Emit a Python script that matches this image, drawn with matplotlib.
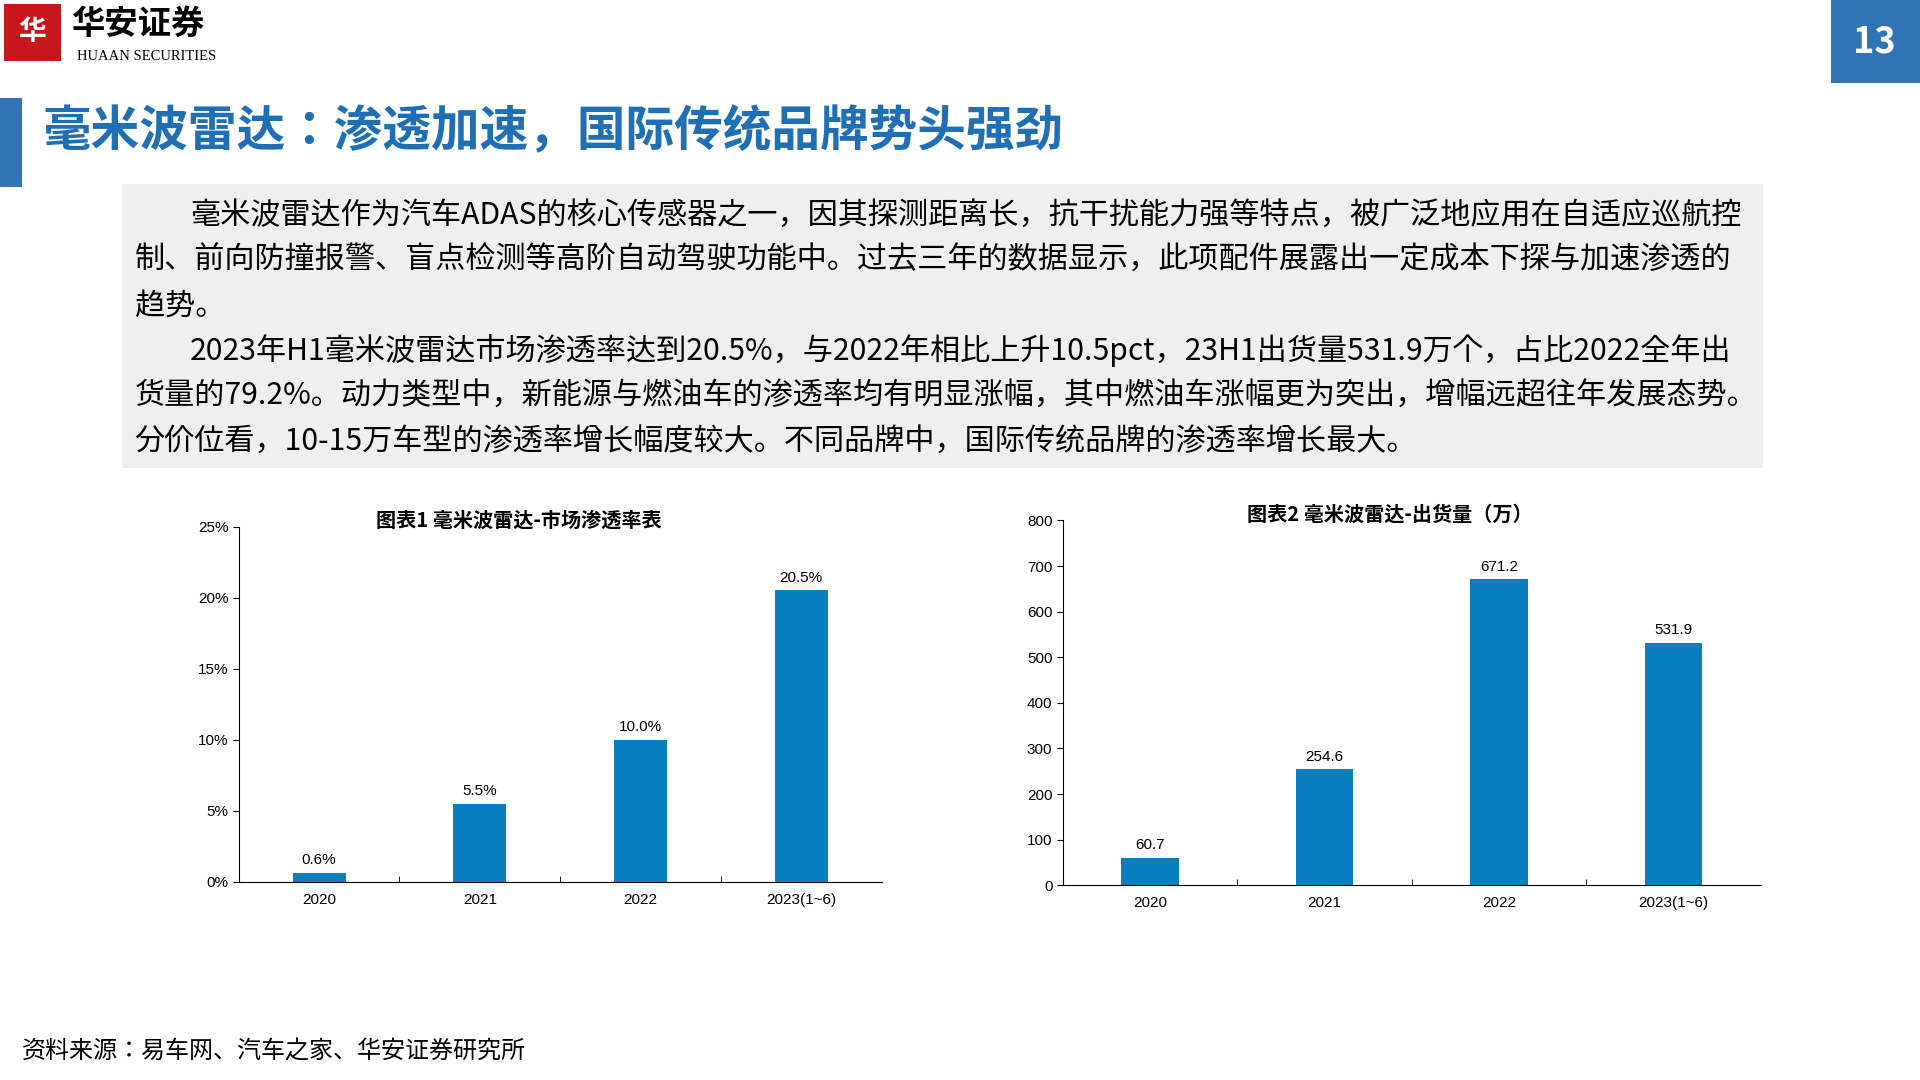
import matplotlib
matplotlib.use("agg")
import matplotlib.pyplot as plt
from matplotlib.patches import Rectangle
from matplotlib.ticker import FuncFormatter

CJK = ['Noto Sans CJK JP', 'Noto Sans CJK SC', 'Noto Sans CJK TC', 'Noto Sans CJK KR', 'DejaVu Sans']
NUM = ['Liberation Sans'] + CJK
plt.rcParams['font.family'] = CJK
plt.rcParams['axes.unicode_minus'] = False

years = ['2020', '2021', '2022', '2023(1~6)']
rate = [0.6, 5.5, 10.0, 20.5]
ship = [60.7, 254.6, 671.2, 531.9]
rate_labels = ['0.6%', '5.5%', '10.0%', '20.5%']
ship_labels = ['60.7', '254.6', '671.2', '531.9']

BLUE = '#0a7fc0'
W, H = 1568, 882

def fx(x): return x / W
def fy(y): return 1 - y / H

fig = plt.figure(figsize=(19.2, 10.8), dpi=100)

# logo
fig.patches.append(Rectangle((fx(3), fy(50)), fx(47), 47 / H, transform=fig.transFigure,
                             facecolor='#c8161d', edgecolor='none'))
fig.text(fx(26), fy(26), '华', color='white', fontsize=20, ha='center', va='center', weight='bold')
fig.text(fx(58), fy(20), '华安证券', fontsize=24, ha='left', va='center', weight='bold')
fig.text(fx(63), fy(46), 'HUAAN SECURITIES', fontsize=10.5, ha='left', va='center', family='Liberation Serif')

# page number
fig.patches.append(Rectangle((fx(1495), fy(68)), fx(73), 68 / H, transform=fig.transFigure,
                             facecolor='#2f74b5', edgecolor='none'))
fig.text(fx(1531), fy(34), '13', color='white', fontsize=26, ha='center', va='center', weight='bold')

# title
fig.patches.append(Rectangle((0, fy(153)), fx(18), 73 / H, transform=fig.transFigure,
                             facecolor='#2f74b5', edgecolor='none'))
fig.text(fx(35), fy(108), '毫米波雷达：渗透加速，国际传统品牌势头强劲', color='#1f6fb5',
         fontsize=35, ha='left', va='center', weight='bold')

# text box
fig.patches.append(Rectangle((fx(100), fy(382)), fx(1340), 232 / H, transform=fig.transFigure,
                             facecolor='#efefef', edgecolor='none'))
lines = [
    (155, '毫米波雷达作为汽车ADAS的核心传感器之一，因其探测距离长，抗干扰能力强等特点，被广泛地应用在自适应巡航控'),
    (110, '制、前向防撞报警、盲点检测等高阶自动驾驶功能中。过去三年的数据显示，此项配件展露出一定成本下探与加速渗透的'),
    (110, '趋势。'),
    (155, '2023年H1毫米波雷达市场渗透率达到20.5%，与2022年相比上升10.5pct，23H1出货量531.9万个，占比2022全年出'),
    (110, '货量的79.2%。动力类型中，新能源与燃油车的渗透率均有明显涨幅，其中燃油车涨幅更为突出，增幅远超往年发展态势。'),
    (110, '分价位看，10-15万车型的渗透率增长幅度较大。不同品牌中，国际传统品牌的渗透率增长最大。'),
]
for i, (x, s) in enumerate(lines):
    fig.text(fx(x), fy(176 + i * 36.8), s, fontsize=21.7, ha='left', va='center')

def bar_chart(rect, values, labels, title, title_x, ylim, yticks, fmt, offset):
    ax = fig.add_axes(rect)
    pos = range(len(years))
    ax.bar(pos, values, width=0.33, color=BLUE)
    for p, v, l in zip(pos, values, labels):
        ax.text(p, v + offset, l, ha='center', va='bottom', fontsize=11, family=NUM)
    ax.set_xlim(-0.5, len(years) - 0.5)
    ax.set_ylim(*ylim)
    ax.set_yticks(yticks)
    ax.yaxis.set_major_formatter(FuncFormatter(fmt))
    ax.set_xticks(list(pos))
    ax.set_xticklabels(years, fontsize=11, family=NUM)
    for t in ax.get_yticklabels():
        t.set_family(NUM)
    ax.set_xticks([i + 0.5 for i in range(len(years) - 1)], minor=True)
    ax.tick_params(axis='x', which='major', length=0, pad=8)
    ax.tick_params(axis='x', which='minor', length=4, direction='in')
    ax.tick_params(axis='y', labelsize=11, length=4, direction='out')
    for s in ['top', 'right']:
        ax.spines[s].set_visible(False)
    ax.set_title(title, fontsize=14.5, weight='bold', pad=0, y=1.0, x=title_x)
    return ax

bar_chart([fx(195), fy(720), fx(525), 290 / H], rate, rate_labels, '图表1 毫米波雷达-市场渗透率表', 0.436,
          (0, 25), [0, 5, 10, 15, 20, 25], lambda v, p: f'{int(v)}%', 0.4)
bar_chart([fx(868), fy(723), fx(570), 298 / H], ship, ship_labels, '图表2 毫米波雷达-出货量（万）', 0.468,
          (0, 800), range(0, 801, 100), lambda v, p: f'{int(v)}', 12)

fig.text(fx(18), fy(858), '资料来源：易车网、汽车之家、华安证券研究所', fontsize=17.3, style='italic',
         ha='left', va='center')

fig.savefig('out.png', dpi=100)
